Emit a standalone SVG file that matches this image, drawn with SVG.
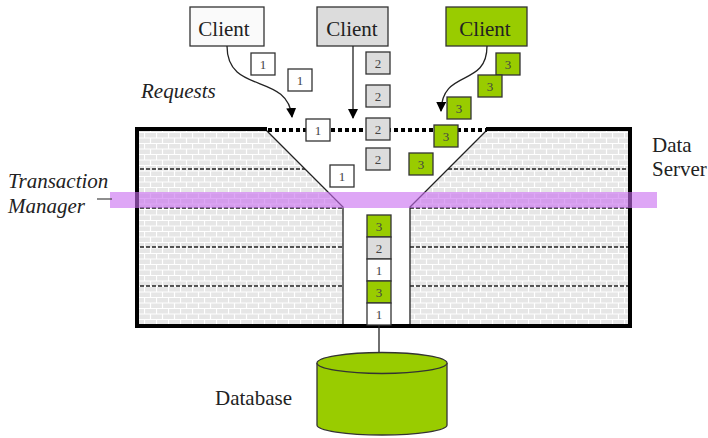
<svg xmlns="http://www.w3.org/2000/svg" width="708" height="438" viewBox="0 0 708 438">
<style>
.lbl{font-family:"Liberation Serif",serif;font-size:21px;fill:#222}
.it{font-style:italic}
.cl{font-family:"Liberation Serif",serif;font-size:21px;fill:#222;text-anchor:middle}
.num{font-family:"Liberation Serif",serif;font-size:13px;fill:#444;text-anchor:middle}
.bx{stroke:#333;stroke-width:1.3}
.w{fill:#ffffff}.g{fill:#dcdcdc}.gr{fill:#99cc00}
.thin{fill:none;stroke:#222;stroke-width:1.3}
.dash{fill:none;stroke:#222;stroke-width:1.3;stroke-dasharray:4 2}
.thick{fill:none;stroke:#000;stroke-width:4;stroke-linecap:square}
</style>
<defs>
<pattern id="brick" width="12" height="11" patternUnits="userSpaceOnUse">
<rect width="12" height="11" fill="#e6e6e6"/>
<path d="M0,0.5H12M0,6H12M0.5,0.5V6M6.5,6V11" stroke="#ffffff" stroke-width="1.2" fill="none"/>
</pattern>
<marker id="ah" viewBox="0 0 10 10" refX="9" refY="5" markerWidth="10" markerHeight="10" markerUnits="userSpaceOnUse" orient="auto">
<path d="M0,0L10,5L0,10z" fill="#000"/>
</marker>
</defs>

<g id="server">
<path d="M137,129H265L343,207V326H137Z" fill="url(#brick)"/>
<path d="M488,129H630V326H410V207Z" fill="url(#brick)"/>
<path class="dash" d="M140,169H305M448,169H628M140,208H343M410,208H628M140,247H343M410,247H628M140,286H343M410,286H628"/>
<path class="thin" d="M265,129L343,207V326M488,129L410,207V326"/>
<path class="thick" d="M265,129H137V326H630V129H488"/>
<path d="M268,130H487" fill="none" stroke="#000" stroke-width="4" stroke-dasharray="4 3"/>
<text class="lbl" x="652" y="152">Data</text>
<text class="lbl" x="652" y="176">Server</text>
</g>

<g id="transaction-manager">
<rect x="110" y="192" width="547" height="16" fill="#c86bf0" opacity="0.6"/>
<line x1="97" y1="199" x2="112" y2="199" stroke="#444" stroke-width="1.2"/>
<text class="lbl it" x="8" y="188">Transaction</text>
<text class="lbl it" x="8" y="213">Manager</text>
</g>

<text id="requests-label" class="lbl it" x="141" y="98">Requests</text>

<g id="client1">
<rect class="bx" x="190" y="7" width="74" height="39" fill="#fafafa"/>
<text class="cl" x="224" y="36">Client</text>
</g>
<g id="client2">
<rect class="bx g" x="317" y="7" width="71" height="39"/>
<text class="cl" x="352" y="36">Client</text>
</g>
<g id="client3">
<rect class="bx gr" x="446" y="7" width="81" height="39"/>
<text class="cl" x="485" y="36">Client</text>
</g>

<g id="connectors">
<path class="thin" d="M227,46C227,95 288,72 292,117" marker-end="url(#ah)"/>
<path class="thin" d="M353,46V118" marker-end="url(#ah)"/>
<path class="thin" d="M487,46C487,88 442,68 441,111" marker-end="url(#ah)"/>
<line x1="379" y1="325" x2="379" y2="354" stroke="#222" stroke-width="1.3"/>
</g>

<g id="requests-1">
<rect class="bx w" x="251" y="53" width="24" height="22"/><text class="num" x="263" y="69">1</text>
<rect class="bx w" x="288" y="69" width="24" height="22"/><text class="num" x="300" y="85">1</text>
<rect class="bx w" x="306" y="119" width="24" height="22"/><text class="num" x="318" y="135">1</text>
<rect class="bx w" x="330" y="165" width="24" height="22"/><text class="num" x="342" y="181">1</text>
</g>
<g id="requests-2">
<rect class="bx g" x="366" y="52" width="24" height="22"/><text class="num" x="378" y="68">2</text>
<rect class="bx g" x="366" y="85" width="24" height="22"/><text class="num" x="378" y="101">2</text>
<rect class="bx g" x="366" y="118" width="24" height="22"/><text class="num" x="378" y="134">2</text>
<rect class="bx g" x="366" y="148" width="24" height="22"/><text class="num" x="378" y="164">2</text>
</g>
<g id="requests-3">
<rect class="bx gr" x="496" y="53" width="24" height="22"/><text class="num" x="508" y="69">3</text>
<rect class="bx gr" x="478" y="75" width="24" height="22"/><text class="num" x="490" y="91">3</text>
<rect class="bx gr" x="447" y="97" width="24" height="22"/><text class="num" x="459" y="113">3</text>
<rect class="bx gr" x="434" y="125" width="24" height="22"/><text class="num" x="446" y="141">3</text>
<rect class="bx gr" x="409" y="153" width="24" height="22"/><text class="num" x="421" y="169">3</text>
</g>

<g id="queue">
<rect class="bx gr" x="367" y="215" width="24" height="22"/><text class="num" x="379" y="231">3</text>
<rect class="bx g" x="367" y="237" width="24" height="22"/><text class="num" x="379" y="253">2</text>
<rect class="bx w" x="367" y="259" width="24" height="22"/><text class="num" x="379" y="275">1</text>
<rect class="bx gr" x="367" y="281" width="24" height="22"/><text class="num" x="379" y="297">3</text>
<rect class="bx w" x="367" y="303" width="24" height="22"/><text class="num" x="379" y="319">1</text>
</g>

<g id="database">
<path d="M317,363V425A65,10 0 0 0 447,425V363" fill="#99cc00" stroke="#333" stroke-width="1.3"/>
<ellipse cx="382" cy="363" rx="65" ry="10.5" fill="#99cc00" stroke="#333" stroke-width="1.3"/>
<text class="lbl" x="215" y="405">Database</text>
</g>
</svg>
